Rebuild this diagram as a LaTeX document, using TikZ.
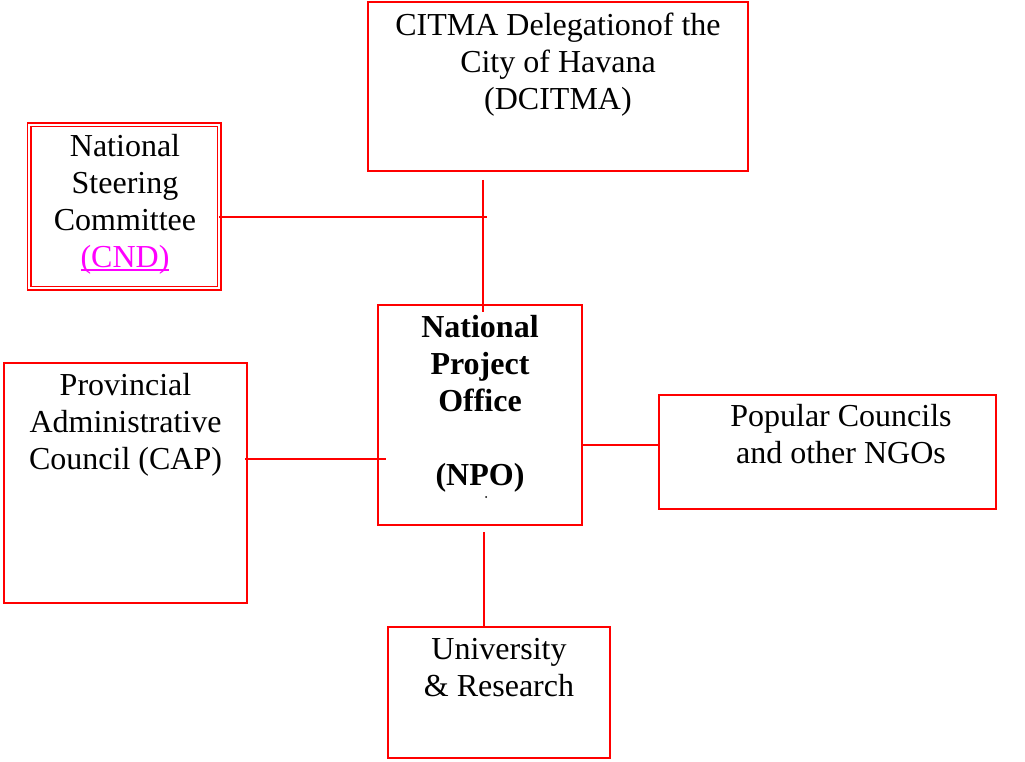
\documentclass[tikz,border=0pt]{standalone}
\usepackage{fontspec}
\setmainfont{Liberation Serif}
\definecolor{lnk}{RGB}{255,0,255}
\definecolor{lred}{RGB}{255,0,0}
\begin{document}
\begin{tikzpicture}[x=1pt,y=-1pt,
  box/.style={draw=lred,line width=2pt,inner sep=0,fill=none},
  dbox/.style={draw=lred,double=white,double distance=1.8pt,line width=1.6pt,inner sep=0},
  txt/.style={inner sep=0,anchor=north,align=center,font=\fontsize{32}{37}\selectfont},
  conn/.style={draw=lred,line width=2pt}]
\useasboundingbox (0,0) rectangle (1025,762);
% boxes
\node[box,minimum width=380pt,minimum height=169pt] (citma) at (558,86.5) {};
\node[dbox,minimum width=190pt,minimum height=163pt] (nsc) at (124,206.5) {};
\node[box,minimum width=204pt,minimum height=220pt] (npo) at (480,415) {};
\node[box,minimum width=243pt,minimum height=240pt] (cap) at (125.5,483) {};
\node[box,minimum width=337pt,minimum height=114pt] (pop) at (827.5,452) {};
\node[box,minimum width=222pt,minimum height=131pt] (univ) at (499,692.5) {};
% texts
\node[txt] (citmaT) at (558,13) {CITMA Delegationof the\\City of Havana\\(DCITMA)};
\node[txt] (nscT) at (125,134) {National\\Steering\\Committee\\\textcolor{lnk}{\setlength{\fboxsep}{0pt}(CND)\llap{\rule[-3.5pt]{88pt}{1.6pt}}}};
\node[txt,font=\fontsize{32}{37}\selectfont\bfseries] (npoT) at (480,315) {National\\Project\\Office\\[37pt](NPO)};
\node[circle,fill=black,inner sep=0,minimum size=2pt] (dot) at (486,497) {};
\node[txt] (capT) at (125.5,373) {Provincial\\Administrative\\Council (CAP)};
\node[txt] (popT) at (841,404) {Popular Councils\\and other NGOs};
\node[txt] (univT) at (499,638) {University\\\& Research};
% connector points
\coordinate (vTop) at (483,180);
\coordinate (vBot) at (483,312);
\coordinate (hEnd) at (487,217);
\coordinate (capEnd) at (386,459);
\coordinate (univTop) at (484,532);
% connectors
\draw[conn] (vTop) -- (vBot);
\draw[conn] (nsc.east |- hEnd) ++(-1,0) -- (hEnd);
\draw[conn] (cap.east |- capEnd) ++(-3,0) -- (capEnd);
\draw[conn] (npo.east |- 0,445) -- (pop.west |- 0,445);
\draw[conn] (univTop) -- (univ.north -| univTop);
\end{tikzpicture}
\end{document}
